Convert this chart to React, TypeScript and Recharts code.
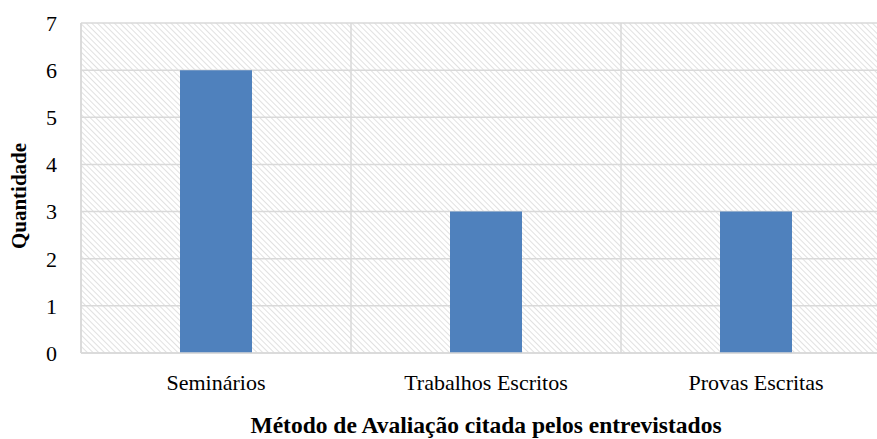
import { Bar, BarChart, CartesianGrid, XAxis, YAxis } from "recharts";

const metodos = ["Seminários", "Trabalhos Escritos", "Provas Escritas"];
const quantidades = [6, 3, 3];
const yTicks = [0, 1, 2, 3, 4, 5, 6, 7];

const data = metodos.map((m, i) => ({ metodo: m, quantidade: quantidades[i] }));

const FONT = "'Liberation Serif', 'Times New Roman', serif";
const GRID = "#d9d9d9";

// the original chart is cropped on the right, so draw wider and clip
const XTitle = () => (
  <text
    x={486}
    y={433}
    textAnchor="middle"
    fill="#000"
    fontSize={23.5}
    fontWeight="bold"
    fontFamily={FONT}
  >
    Método de Avaliação citada pelos entrevistados
  </text>
);

const YTitle = ({ viewBox }: any) => {
  const cx = 26;
  const cy = viewBox.y + viewBox.height / 2 + 8;
  return (
    <text
      x={cx}
      y={cy}
      transform={`rotate(-90, ${cx}, ${cy})`}
      textAnchor="middle"
      fill="#000"
      fontSize={21}
      fontWeight="bold"
      fontFamily={FONT}
    >
      Quantidade
    </text>
  );
};

export default function App() {
  return (
    <div
      style={{
        position: "absolute",
        left: 0,
        top: 0,
        width: 877,
        height: 439,
        overflow: "hidden",
        background: "#fff",
      }}
    >
      <svg width="0" height="0" style={{ position: "absolute" }}>
        <defs>
          <pattern id="hatch" patternUnits="userSpaceOnUse" width="4" height="4" patternTransform="rotate(-45)">
            <line x1="0" y1="0" x2="0" y2="4" stroke={GRID} strokeWidth="1.6" />
          </pattern>
        </defs>
      </svg>
      <BarChart
        width={891}
        height={439}
        data={data}
        margin={{ top: 23, right: 0, left: 0, bottom: 0 }}
        barSize={72}
      >
        <CartesianGrid
          stroke={GRID}
          strokeWidth={1.5}
          fill="url(#hatch)"
          fillOpacity={1}
          verticalCoordinatesGenerator={({ offset }: any) => [
            offset.left,
            offset.left + offset.width / 3,
            offset.left + (offset.width * 2) / 3,
            offset.left + offset.width,
          ]}
        />
        <XAxis
          dataKey="metodo"
          height={86}
          tickLine={false}
          axisLine={{ stroke: GRID, strokeWidth: 1.5 }}
          tickSize={0}
          tickMargin={21}
          tick={{ fill: "#000", fontSize: 22, fontFamily: FONT }}
          label={<XTitle />}
        />
        <YAxis
          width={81}
          domain={[0, 7]}
          ticks={yTicks}
          interval={0}
          tickLine={false}
          axisLine={{ stroke: GRID, strokeWidth: 1.5 }}
          tickSize={0}
          tickMargin={24}
          tick={{ fill: "#000", fontSize: 22, fontFamily: FONT }}
          label={<YTitle />}
        />
        <Bar dataKey="quantidade" fill="#4F81BD" isAnimationActive={false} />
      </BarChart>
    </div>
  );
}
